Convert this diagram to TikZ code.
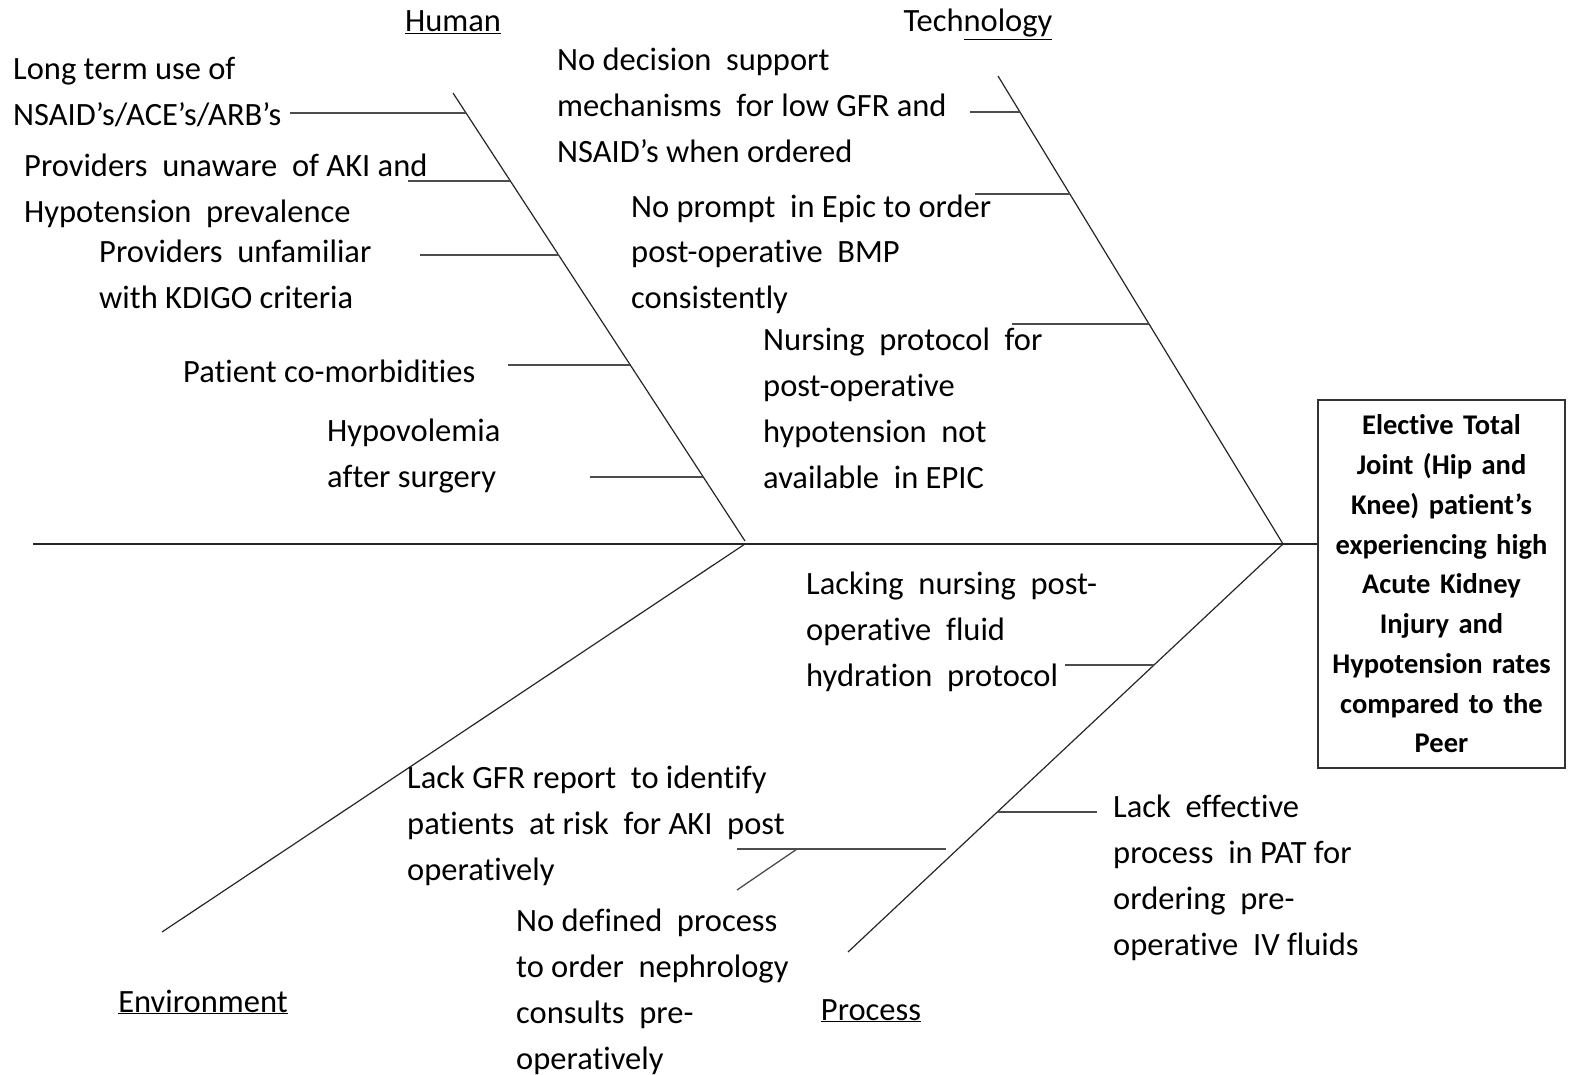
\documentclass[tikz,border=0pt]{standalone}
\usepackage{fontspec}
\setmainfont{Carlito}[Ligatures={NoCommon}, RawFeature=-liga, RawFeature=-clig, RawFeature=-calt, RawFeature=-dlig]
\usetikzlibrary{calc}
\begin{document}
\begin{tikzpicture}[x=1pt,y=-1pt,
  bone/.style={draw=black!85, line width=1.2pt},
  twig/.style={draw=black!70, line width=1.3pt},
  lbl/.style={anchor=base west, inner sep=0pt, align=left, font=\fontsize{32.5}{46}\selectfont},
  cat/.style={anchor=base, inner sep=0pt, font=\fontsize{32.5}{46}\selectfont},
]
\useasboundingbox (0,0) rectangle (1575,1075);
% bones
\coordinate (hT) at (453,93);  \coordinate (hB) at (745,541);
\coordinate (tT) at (998,76);  \coordinate (tB) at (1283,544);
\coordinate (eT) at (162,932); \coordinate (eB) at (745,544);
\coordinate (pT) at (848,952); \coordinate (pB) at (1283,544);
\coordinate (sL) at (33,544);
% effect box
\node[draw=black!80, line width=1.2pt, minimum width=247pt, minimum height=368pt, inner sep=4pt,
      text width=239pt, align=center, font=\bfseries\fontsize{28.5}{39.75}\selectfont]
  (effect) at (1441.5,584) {Elective Total\\Joint (Hip and\\Knee) patient’s\\experiencing high\\Acute Kidney\\Injury and\\Hypotension rates\\compared to the\\Peer};
\draw[bone] (sL) -- (effect.west |- sL);
\draw[bone] (hT) -- (hB);
\draw[bone] (tT) -- (tB);
\draw[bone] (eT) -- (eB);
\draw[bone] (pT) -- (pB);
% junctions
\coordinate (h1) at ($(hT)!{20/448}!(hB)$);
\coordinate (h2) at ($(hT)!{88/448}!(hB)$);
\coordinate (h3) at ($(hT)!{162/448}!(hB)$);
\coordinate (h4) at ($(hT)!{272/448}!(hB)$);
\coordinate (h5) at ($(hT)!{384/448}!(hB)$);
\coordinate (t1) at ($(tT)!{36/468}!(tB)$);
\coordinate (t2) at ($(tT)!{118/468}!(tB)$);
\coordinate (t3) at ($(tT)!{248/468}!(tB)$);
\coordinate (p1) at ($(pB)!{121/408}!(pT)$);
\coordinate (p2) at ($(pB)!{268/408}!(pT)$);
\coordinate (h1e) at (290,113);
\coordinate (h2e) at (408,181);
\coordinate (h3e) at (420,255);
\coordinate (h4e) at (508,365);
\coordinate (h5e) at (590,477);
\coordinate (t1e) at (970,112);
\coordinate (t2e) at (975,194);
\coordinate (t3e) at (1012,324);
\coordinate (p1e) at (1065,665);
\coordinate (p2e) at (1097,812);
\foreach \a/\b in {h1e/h1,h2e/h2,h3e/h3,h4e/h4,h5e/h5,t1e/t1,t2e/t2,t3e/t3,p1e/p1,p2e/p2}
  \draw[twig] (\a) -- (\b |- \a);
% environment sub-branch
\coordinate (e1a) at (737,849); \coordinate (e1b) at (946,849);
\coordinate (e2a) at (737,890); \coordinate (e2b) at (797,849);
\draw[twig] (e1a) -- (e1b);
\draw[twig] (e2a) -- (e2b);
% category labels
\node[cat] (human) at (453,32) {\underline{Human}};
\node[cat] (tech) at (978,32) {Tech\underline{nology}};
\node[cat] (env) at (203,1012) {\underline{Environment}};
\node[cat] (proc) at (871,1020) {\underline{Process}};
% cause labels (anchored at the baseline of the last line)
\node[lbl] (c1) at (13,126) {Long term use of\\NSAID’s/ACE’s/ARB’s};
\node[lbl] (c2) at (24,223) {Providers\ \ unaware\ \ of AKI and\\Hypotension\ \ prevalence};
\node[lbl] (c3) at (99,309) {Providers\ \ unfamiliar\\with KDIGO criteria};
\node[lbl] (c4) at (183,383) {Patient co-morbidities};
\node[lbl] (c5) at (327,487) {Hypovolemia\\after surgery};
\node[lbl] (c6) at (557,163) {No decision\ \ support\\mechanisms\ \ for low GFR and\\NSAID’s when ordered};
\node[lbl] (c7) at (631,309) {No prompt\ \ in Epic to order\\post-operative\ \ BMP\\consistently};
\node[lbl] (c8) at (763,488) {Nursing\ \ protocol\ \ for\\post-operative\\hypotension\ \ not\\available\ \ in EPIC};
\node[lbl] (c9) at (806,686) {Lacking\ \ nursing\ \ post-\\operative\ \ fluid\\hydration\ \ protocol};
\node[lbl] (c10) at (407,880) {Lack GFR report\ \ to identify\\patients\ \ at risk\ \ for AKI\ \ post\\operatively};
\node[lbl] (c11) at (516,1069) {No defined\ \ process\\to order\ \ nephrology\\consults\ \ pre-\\operatively};
\node[lbl] (c12) at (1113,955) {Lack\ \ effective\\process\ \ in PAT for\\ordering\ \ pre-\\operative\ \ IV fluids};
\end{tikzpicture}
\end{document}
